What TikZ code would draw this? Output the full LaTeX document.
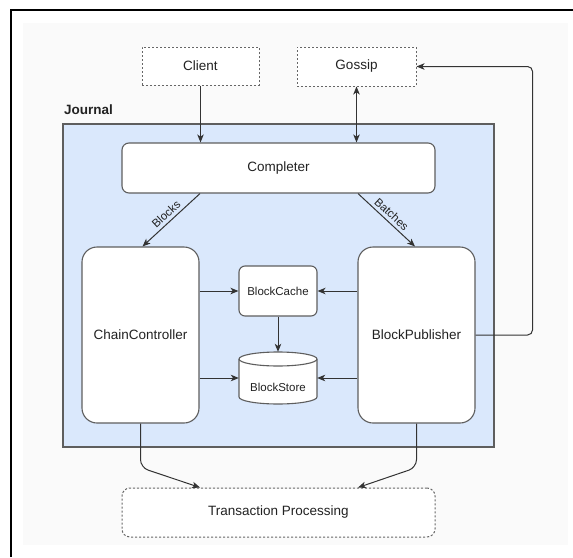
\documentclass[tikz,border=0pt]{standalone}
\usepackage{fontspec}
\setmainfont{Liberation Sans}
\usetikzlibrary{arrows.meta,calc}

\definecolor{pagebg}{HTML}{FAFAFA}
\definecolor{journalfill}{HTML}{DAE8FC}
\definecolor{edge}{HTML}{5E5E5E}
\definecolor{dashedge}{HTML}{666666}
\definecolor{ink}{HTML}{222222}
\definecolor{wire}{HTML}{333333}

\tikzset{
  box/.style={draw=edge, line width=1.1pt, fill=white, text=ink,
    font=\fontsize{13.5}{16}\selectfont, inner sep=0pt},
  smallbox/.style={box, font=\fontsize{11.5}{14}\selectfont},
  extbox/.style={draw=dashedge, line width=1pt, dash pattern=on 2.2pt off 1.8pt,
    fill=white, text=ink, font=\fontsize{13.5}{16}\selectfont, inner sep=0pt},
  arr/.style={draw=wire, line width=1pt, -{Stealth[length=8pt,width=6.5pt,inset=2.2pt]}},
  darr/.style={draw=wire, line width=1pt, {Stealth[length=8pt,width=6.5pt,inset=2.2pt]}-{Stealth[length=8pt,width=6.5pt,inset=2.2pt]}},
  edgelabel/.style={font=\fontsize{11.5}{13}\selectfont, text=ink, inner sep=3pt, sloped, above}
}

\begin{document}
\begin{tikzpicture}[x=1pt, y=-1pt]
  \useasboundingbox (0,0) rectangle (573,557);

  % sheet background and frame
  \fill[white] (0,0) rectangle (573,557);
  \fill[pagebg] (23,23) rectangle (568,545);
  \draw[black, line width=2pt] (11,557) -- (11,9.5) -- (573,9.5);

  % journal region
  \draw[edge, line width=1.3pt, fill=journalfill] (63,124) rectangle (494,447);
  \node[anchor=west, font=\bfseries\fontsize{13.5}{16}\selectfont, text=ink, inner sep=0pt]
    (journal) at (64,110) {Journal};

  % external components
  \node[extbox, minimum width=117pt, minimum height=38pt] (client) at (200.5,66) {Client};
  \node[extbox, minimum width=119pt, minimum height=39pt] (gossip) at (356.5,66.5) {Gossip};
  \node[extbox, rounded corners=8pt, minimum width=313pt, minimum height=49pt]
    (tp) at (278.5,512.5) {Transaction Processing};

  % journal components
  \node[box, rounded corners=7pt, minimum width=313pt, minimum height=50pt]
    (completer) at (278.5,168) {Completer};
  \node[box, rounded corners=15pt, minimum width=117pt, minimum height=176pt]
    (cc) at (140.5,335) {ChainController};
  \node[box, rounded corners=15pt, minimum width=117pt, minimum height=176pt]
    (bp) at (416.5,335) {BlockPublisher};
  \node[smallbox, rounded corners=6pt, minimum width=78pt, minimum height=50pt]
    (cache) at (278,291) {BlockCache};

  % block store cylinder
  \draw[edge, line width=1.1pt, fill=white]
    (239,359) -- (239,397)
    arc[start angle=180, end angle=360, x radius=39pt, y radius=7pt]
    -- (317,359)
    arc[start angle=0, end angle=180, x radius=39pt, y radius=7pt] -- cycle;
  \draw[edge, line width=1.1pt]
    (239,359) arc[start angle=180, end angle=360, x radius=39pt, y radius=7pt];
  \node[minimum width=78pt, minimum height=52pt, inner sep=0pt] (store) at (278,378) {};
  \node[font=\fontsize{11.5}{14}\selectfont, text=ink, inner sep=0pt]
    (storelabel) at (278,387) {BlockStore};

  % connectors
  \draw[arr] (client.south) -- (client.south |- completer.north);
  \draw[darr] (gossip.south) -- (gossip.south |- completer.north);

  \draw[arr] ([xshift=-78.5pt]completer.south) -- node[edgelabel] {Blocks} ([xshift=2pt]cc.north);
  \draw[arr] ([xshift=79.5pt]completer.south) -- node[edgelabel] {Batches} ([xshift=-1.5pt]bp.north);

  \draw[arr] (cache.west -| cc.east) -- (cache.west);
  \draw[arr] (cache.east -| bp.west) -- (cache.east);
  \draw[arr] (cache.south) -- (store.north);
  \draw[arr] (store.west -| cc.east) -- (store.west);
  \draw[arr] (store.east -| bp.west) -- (store.east);

  \draw[arr, rounded corners=5pt] (bp.east) -- ++(57,0) |- (gossip.east);

  \draw[arr, rounded corners=8pt] (cc.south) -- ++(0,44) -- ([xshift=-78.5pt]tp.north);
  \draw[arr, rounded corners=8pt] (bp.south) -- ++(0,44) -- ([xshift=79.5pt]tp.north);
\end{tikzpicture}
\end{document}
